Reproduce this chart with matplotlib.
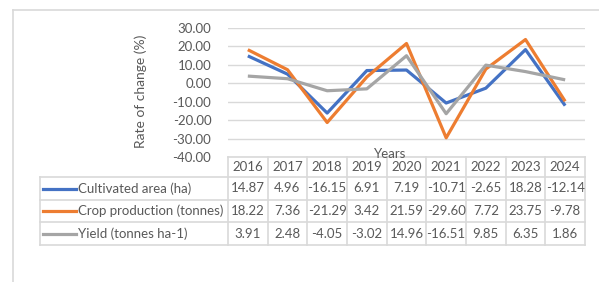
import matplotlib.pyplot as plt
from matplotlib.lines import Line2D

years = ["2016", "2017", "2018", "2019", "2020", "2021", "2022", "2023", "2024"]
area = [14.87, 4.96, -16.15, 6.91, 7.19, -10.71, -2.65, 18.28, -12.14]
production = [18.22, 7.36, -21.29, 3.42, 21.59, -29.60, 7.72, 23.75, -9.78]
yield_ = [3.91, 2.48, -4.05, -3.02, 14.96, -16.51, 9.85, 6.35, 1.86]
series_names = ["Cultivated area (ha)", "Crop production (tonnes)", "Yield (tonnes ha-1)"]
colors = ["#4472C4", "#ED7D31", "#A5A5A5"]

W, H = 599, 282
TXT = "#595959"
GRID = "#D9D9D9"
FS = 9.5
plt.rcParams["font.family"] = ["Lato", "DejaVu Sans"]


def fx(x):
    return x / W


def fy(y):
    return 1 - y / H


fig = plt.figure(figsize=(W / 100, H / 100), dpi=100)

# plot area
left, right, top, bottom = 228, 585, 28, 157
ax = fig.add_axes([fx(left), fy(bottom), fx(right - left), (bottom - top) / H])
for vals, c in zip([area, production, yield_], colors):
    ax.plot(range(len(years)), vals, color=c, lw=2.3, solid_capstyle="butt")
ax.set_xlim(-0.5, len(years) - 0.5)
ax.set_ylim(-40, 30)
ax.set_yticks(range(-40, 31, 10))
ax.set_yticklabels([f"{v:.2f}" for v in range(-40, 31, 10)])
ax.set_xticks([])
ax.grid(axis="y", color=GRID, lw=1)
ax.set_axisbelow(True)
for s in ax.spines.values():
    s.set_visible(False)
ax.tick_params(axis="y", length=0, pad=12, labelsize=FS, labelcolor=TXT)

fig.text(fx(141), fy(91), "Rate of change (%)", rotation=90, ha="center", va="center",
         fontsize=FS + 0.5, color=TXT)
fig.text(fx(390), fy(154), "Years", ha="center", va="center", fontsize=FS, color=TXT)


def hline(y, x0, x1, color=GRID, lw=1.2):
    fig.add_artist(Line2D([fx(x0), fx(x1)], [fy(y), fy(y)], color=color, lw=lw))


def vline(x, y0, y1, color=GRID, lw=1.2):
    fig.add_artist(Line2D([fx(x), fx(x)], [fy(y0), fy(y1)], color=color, lw=lw))


# outer chart frame
hline(10, 13, 599)
vline(13, 10, 282)

# data table
col_w = (right - left) / len(years)
rows_y = [157, 177, 200, 222, 245]
tab_left = 40
hline(rows_y[0], left, right)
for y in rows_y[1:]:
    hline(y, tab_left, right)
vline(tab_left, rows_y[1], rows_y[-1])
for i in range(len(years) + 1):
    vline(left + i * col_w, rows_y[0], rows_y[-1])

for i, yr in enumerate(years):
    fig.text(fx(left + (i + 0.5) * col_w), fy((rows_y[0] + rows_y[1]) / 2), yr,
             ha="center", va="center", fontsize=FS, color=TXT)

for r, (vals, name, c) in enumerate(zip([area, production, yield_], series_names, colors)):
    yc = (rows_y[r + 1] + rows_y[r + 2]) / 2
    fig.add_artist(Line2D([fx(43), fx(76)], [fy(yc), fy(yc)], color=c, lw=2.3))
    fig.text(fx(78), fy(yc), name, ha="left", va="center", fontsize=FS, color=TXT)
    for i, v in enumerate(vals):
        fig.text(fx(left + (i + 0.5) * col_w), fy(yc), f"{v:.2f}",
                 ha="center", va="center", fontsize=FS, color=TXT)

fig.savefig("out.png", dpi=100)
